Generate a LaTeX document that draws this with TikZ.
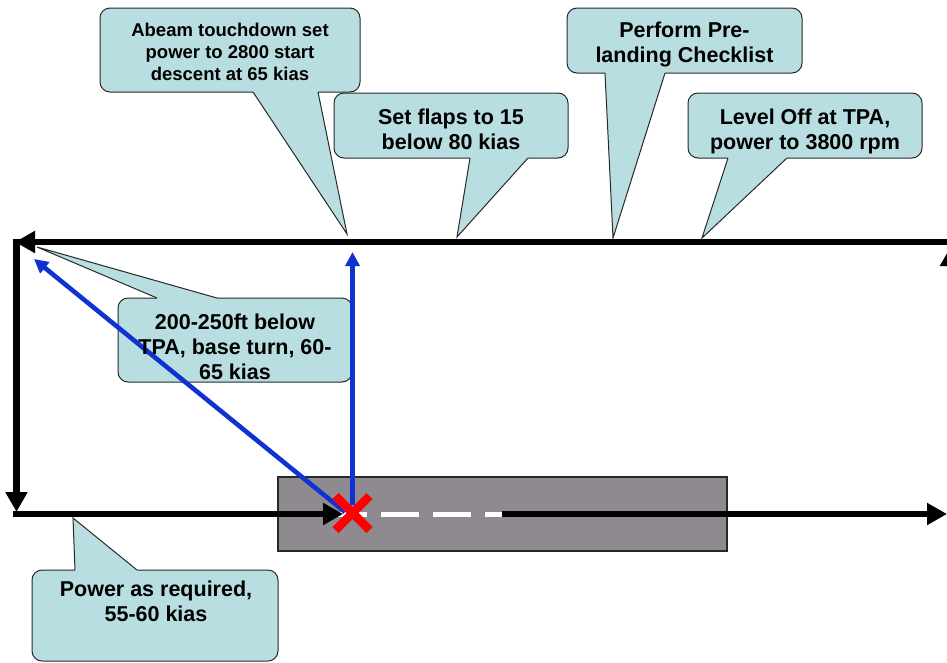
\documentclass[tikz,border=0pt]{standalone}
\usepackage{fontspec}
\setmainfont{Liberation Sans}
\usetikzlibrary{arrows.meta}
\definecolor{callfill}{RGB}{185,222,226}
\definecolor{runwaygray}{RGB}{143,138,143}
\definecolor{blueline}{RGB}{16,50,210}
\definecolor{edgegray}{RGB}{40,40,40}
\begin{document}
\begin{tikzpicture}[x=1pt,y=-1pt,
  blk/.style={line width=6.5pt, black},
  blkarrow/.style={blk, -{Triangle[length=20pt,width=21pt]}},
  bluearrow/.style={line width=4.6pt, blueline, -{Triangle[length=14pt,width=14pt]}},
  cbox/.style={fill=callfill, draw=edgegray, line width=1pt, rounded corners=10pt},
  cfillonly/.style={fill=callfill},
  cedge/.style={draw=edgegray, line width=1pt, line join=miter},
  ctext/.style={font=\fontsize{21.5}{25}\selectfont\bfseries, align=center, text=black, inner sep=0pt},
  csmall/.style={font=\fontsize{18.5}{22}\selectfont\bfseries, align=center, text=black, inner sep=0pt},
  rwy/.style={fill=runwaygray, draw=edgegray, line width=1.2pt}]
\useasboundingbox (0,0) rectangle (947,662);
\clip (0,0) rectangle (947,662);

% runway
\draw[rwy] (278,477) rectangle (727,551);
\draw[white, line width=5pt, dash pattern=on 38pt off 14pt] (329,514) -- (502,514);

% circuit coordinates
\coordinate (TR) at (965,242);
\coordinate (TL) at (15,242);
\coordinate (LT) at (16.5,238.75);
\coordinate (LB) at (16.5,512);
\coordinate (BL) at (13.25,514);
\coordinate (BT) at (343,514);
\coordinate (BR0) at (502,514);
\coordinate (BR) at (947,514);
\coordinate (RB) at (951,600);
\coordinate (RT) at (951,246);

\draw[blkarrow] (TR) -- (TL);
\draw[blkarrow] (LT) -- (LB);
\draw[blkarrow] (BL) -- (BT);
\draw[blkarrow] (BR0) -- (BR);
\draw[blkarrow] (RB) -- (RT);

% callout 1
\draw[cbox] (100,8) rectangle (360,92);
\fill[cfillonly] (253,89) -- (253,92) -- (347,234) -- (318,92) -- (318,89) -- cycle;
\draw[cedge] (253,92) -- (347,234) -- (318,92);
% callout 2
\draw[cbox] (334,93) rectangle (568,158);
\fill[cfillonly] (470,155) -- (470,158) -- (457,237) -- (528,158) -- (528,155) -- cycle;
\draw[cedge] (470,158) -- (457,237) -- (528,158);
% callout 3
\draw[cbox] (567,8) rectangle (802,73);
\fill[cfillonly] (605,70) -- (605,73) -- (613,238) -- (665,73) -- (665,70) -- cycle;
\draw[cedge] (605,73) -- (613,238) -- (665,73);
% callout 4
\draw[cbox] (688,93) rectangle (922,158);
\fill[cfillonly] (728,155) -- (728,158) -- (702,238) -- (787,158) -- (787,155) -- cycle;
\draw[cedge] (728,158) -- (702,238) -- (787,158);
% callout 5
\draw[cbox] (118,298) rectangle (352,382);
\fill[cfillonly] (157,301) -- (157,298) -- (37,247) -- (217,298) -- (217,301) -- cycle;
\draw[cedge] (157,298) -- (37,247) -- (217,298);
% callout 6
\draw[cbox] (32,570) rectangle (278,661);
\fill[cfillonly] (75,573) -- (75,570) -- (73,518) -- (137,570) -- (137,573) -- cycle;
\draw[cedge] (75,570) -- (73,518) -- (137,570);

% blue arrows
\coordinate (BV0) at (352.5,505);
\coordinate (BV1) at (352.5,252);
\coordinate (BD0) at (345,512);
\coordinate (BD1) at (34,259);
\draw[bluearrow] (BV0) -- (BV1);
\draw[bluearrow] (BD0) -- (BD1);

% touchdown X
\coordinate (X1) at (335.5,496);
\coordinate (X2) at (369.5,530);
\coordinate (X3) at (335.5,530);
\coordinate (X4) at (369.5,496);
\draw[red, line width=8.5pt] (X1) -- (X2);
\draw[red, line width=8.5pt] (X3) -- (X4);

% texts
\node[csmall] (t1) at (230,52) {Abeam touchdown set\\power to 2800 start\\descent at 65 kias};
\node[ctext] (t2) at (451,129) {Set flaps to 15\\below 80 kias};
\node[ctext] (t3) at (684.5,44) {Perform Pre-\\landing Checklist};
\node[ctext] (t4) at (805,131) {Level Off at TPA,\\power to 3800 rpm};
\node[ctext] (t5) at (235,347) {200-250ft below\\TPA, base turn, 60-\\65 kias};
\node[ctext] (t6) at (156,601) {Power as required,\\55-60 kias};
\end{tikzpicture}
\end{document}
